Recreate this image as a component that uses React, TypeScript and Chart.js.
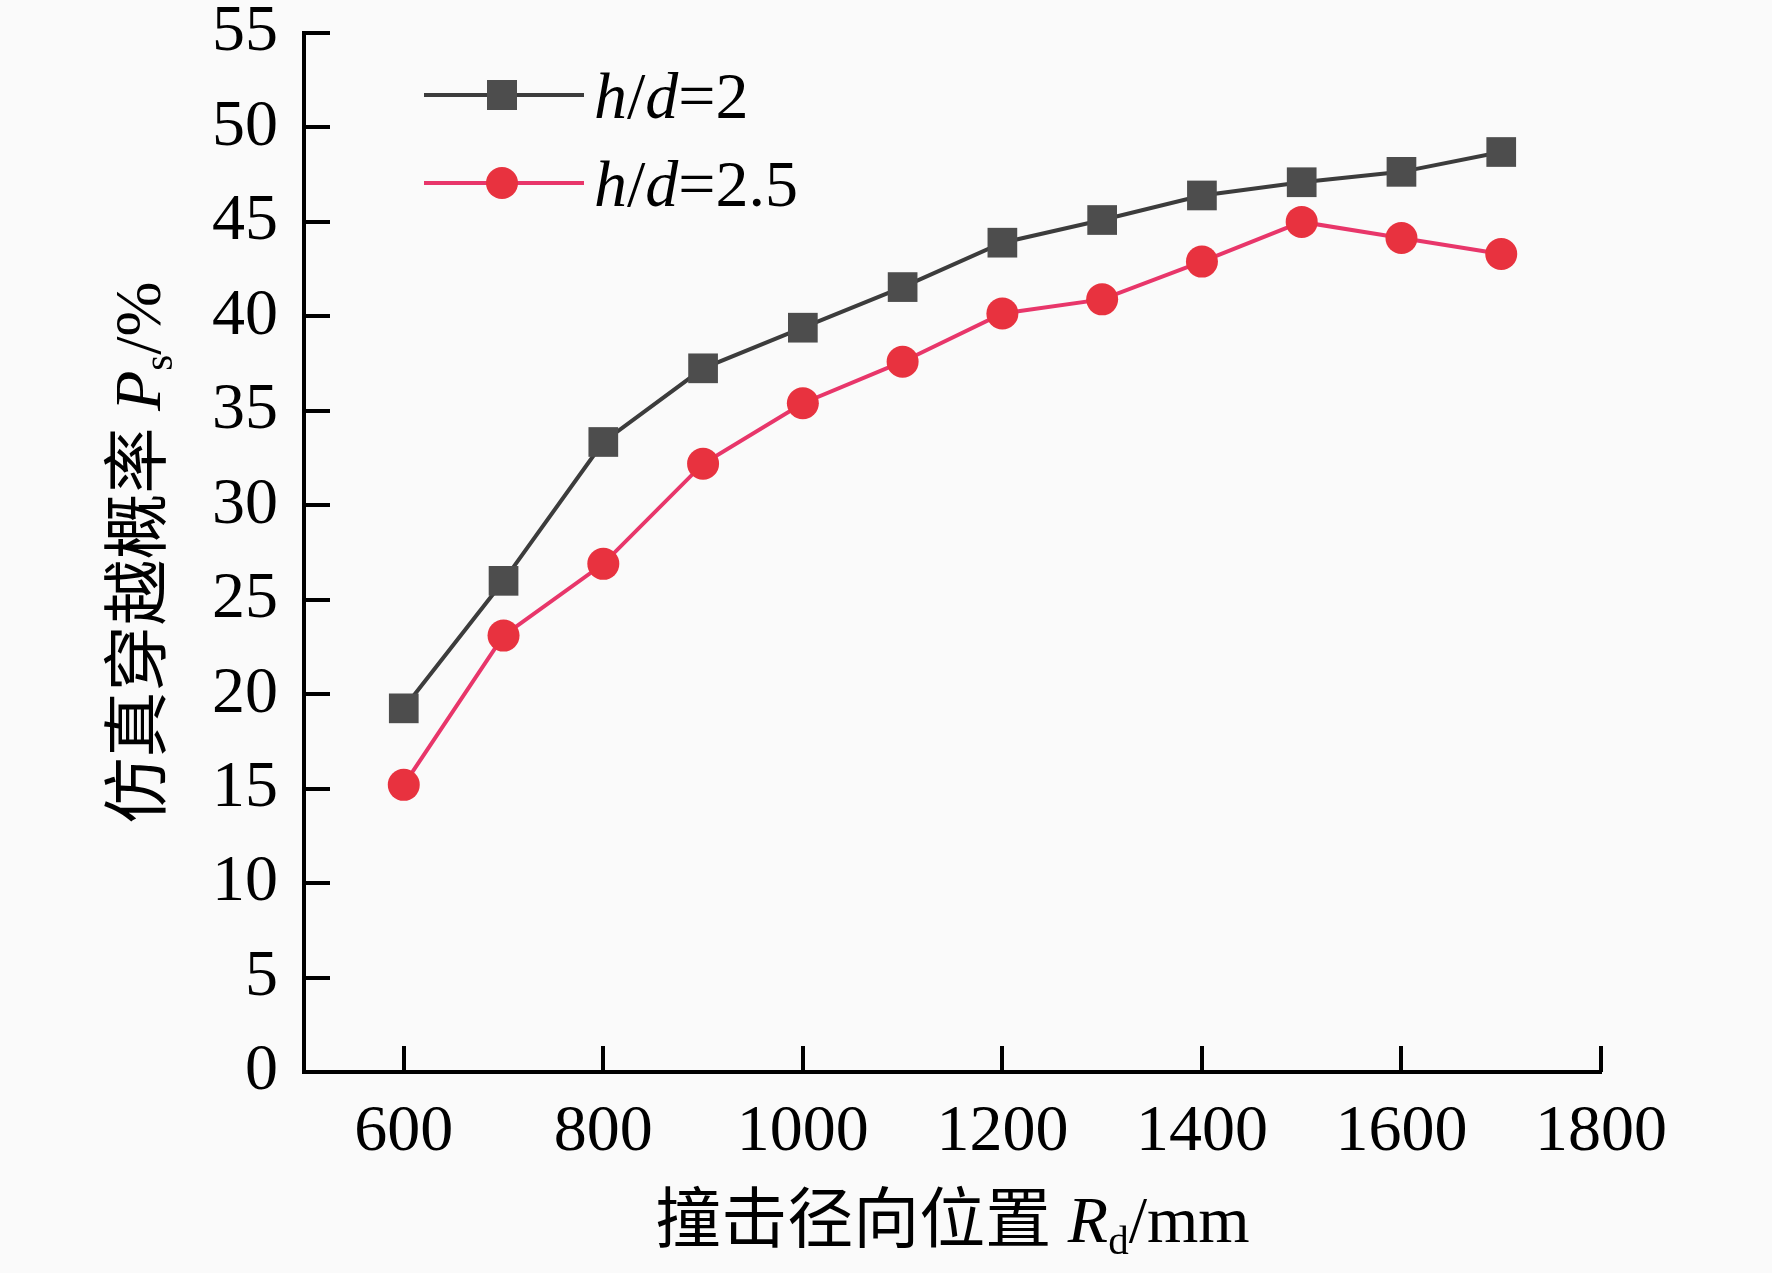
import React, { useEffect, useRef } from "react";
import { Chart, registerables } from "chart.js";

Chart.register(...registerables);

const positions = [600, 700, 800, 900, 1000, 1100, 1200, 1300, 1400, 1500, 1600, 1700];
const seriesHd2 = [19.25, 26.0, 33.35, 37.25, 39.4, 41.55, 43.9, 45.1, 46.4, 47.1, 47.65, 48.7];
const seriesHd25 = [15.2, 23.1, 26.9, 32.2, 35.4, 37.6, 40.15, 40.9, 42.9, 45.0, 44.15, 43.3];
const xTickValues = [600, 800, 1000, 1200, 1400, 1600, 1800];
const yTickValues = [0, 5, 10, 15, 20, 25, 30, 35, 40, 45, 50, 55];

const LATIN = "'Liberation Serif', 'Times New Roman', serif";
const CJK = "'Noto Sans CJK SC', sans-serif";
const FS = 66;

type Seg = { t: string; italic?: boolean; sub?: boolean; cjk?: boolean };

function segFont(s: Seg) {
  const size = s.sub ? Math.round(FS * 0.62) : FS;
  const fam = s.cjk ? CJK : LATIN;
  return `${s.italic ? "italic " : ""}${size}px ${fam}`;
}

function drawRich(ctx: CanvasRenderingContext2D, segs: Seg[], x: number, y: number, align: "center" | "left") {
  let total = 0;
  const widths = segs.map((s) => {
    ctx.font = segFont(s);
    const w = ctx.measureText(s.t).width;
    total += w;
    return w;
  });
  let cx = align === "center" ? x - total / 2 : x;
  segs.forEach((s, i) => {
    ctx.font = segFont(s);
    ctx.fillText(s.t, cx, s.sub ? y + FS * 0.18 : y);
    cx += widths[i];
  });
}

const xTitle: Seg[] = [
  { t: "撞击径向位置", cjk: true },
  { t: " " },
  { t: "R", italic: true },
  { t: "d", sub: true },
  { t: "/mm" },
];
const yTitle: Seg[] = [
  { t: "仿真穿越概率", cjk: true },
  { t: " " },
  { t: "P", italic: true },
  { t: "s", sub: true },
  { t: "/%" },
];

const COLORS = {
  blackLine: "#3c3c3c",
  blackMarker: "#4d4d4d",
  redLine: "#e8366a",
  redMarker: "#e8323f",
};

const decorPlugin = {
  id: "decor",
  afterDraw(chart: any) {
    const ctx: CanvasRenderingContext2D = chart.ctx;
    const area = chart.chartArea;
    const xs = chart.scales.x;
    const ys = chart.scales.y;
    ctx.save();
    ctx.strokeStyle = "#000";
    ctx.lineWidth = 4;
    // inward ticks
    xs.ticks.forEach((t: any) => {
      const px = Math.round(xs.getPixelForValue(t.value));
      ctx.beginPath();
      ctx.moveTo(px, area.bottom);
      ctx.lineTo(px, area.bottom - 26);
      ctx.stroke();
    });
    ys.ticks.forEach((t: any) => {
      const py = Math.round(ys.getPixelForValue(t.value));
      ctx.beginPath();
      ctx.moveTo(area.left, py);
      ctx.lineTo(area.left + 26, py);
      ctx.stroke();
    });
    // axis titles
    ctx.fillStyle = "#000";
    ctx.textBaseline = "alphabetic";
    ctx.textAlign = "left";
    drawRich(ctx, xTitle, (area.left + area.right) / 2, area.bottom + 170, "center");
    ctx.save();
    ctx.translate(160, (area.top + area.bottom) / 2);
    ctx.rotate(-Math.PI / 2);
    drawRich(ctx, yTitle, 0, 0, "center");
    ctx.restore();

    // legend
    const items = [
      { ds: chart.data.datasets[0], label: [{ t: "h", italic: true }, { t: "/" }, { t: "d", italic: true }, { t: "=2" }] as Seg[], y: area.top + 62 },
      { ds: chart.data.datasets[1], label: [{ t: "h", italic: true }, { t: "/" }, { t: "d", italic: true }, { t: "=2.5" }] as Seg[], y: area.top + 150 },
    ];
    const lx0 = area.left + 120;
    const lx1 = area.left + 280;
    items.forEach((it) => {
      ctx.strokeStyle = it.ds.borderColor;
      ctx.lineWidth = 4;
      ctx.beginPath();
      ctx.moveTo(lx0, it.y);
      ctx.lineTo(lx1, it.y);
      ctx.stroke();
      const mx = (lx0 + lx1) / 2 - 2;
      ctx.fillStyle = it.ds.pointBackgroundColor;
      if (it.ds.pointStyle === "rect") {
        ctx.fillRect(mx - 15, it.y - 15, 30, 30);
      } else {
        ctx.beginPath();
        ctx.arc(mx, it.y, 16, 0, Math.PI * 2);
        ctx.fill();
      }
      ctx.fillStyle = "#000";
      drawRich(ctx, it.label, lx1 + 10, it.y + 23, "left");
    });
    ctx.restore();
  },
};

export default function App() {
  const ref = useRef<HTMLCanvasElement | null>(null);
  useEffect(() => {
    if (!ref.current) return;
    const chart = new Chart(ref.current, {
      type: "line",
      data: {
        datasets: [
          {
            label: "h/d=2",
            data: positions.map((x, i) => ({ x, y: seriesHd2[i] })),
            borderColor: COLORS.blackLine,
            backgroundColor: COLORS.blackMarker,
            pointBackgroundColor: COLORS.blackMarker,
            pointBorderColor: COLORS.blackMarker,
            pointStyle: "rect",
            pointRadius: 21,
            pointBorderWidth: 0,
            borderWidth: 4,
            tension: 0,
          },
          {
            label: "h/d=2.5",
            data: positions.map((x, i) => ({ x, y: seriesHd25[i] })),
            borderColor: COLORS.redLine,
            backgroundColor: COLORS.redMarker,
            pointBackgroundColor: COLORS.redMarker,
            pointBorderColor: COLORS.redMarker,
            pointStyle: "circle",
            pointRadius: 16,
            pointBorderWidth: 0,
            borderWidth: 4,
            tension: 0,
          },
        ],
      },
      options: {
        animation: false,
        responsive: false,
        devicePixelRatio: 1,
        layout: { padding: { top: 33, right: 171, left: 0, bottom: 0 } },
        plugins: { legend: { display: false }, tooltip: { enabled: false } },
        scales: {
          x: {
            type: "linear",
            min: 500,
            max: 1800,
            afterBuildTicks: (s: any) => {
              s.ticks = xTickValues.map((v) => ({ value: v }));
            },
            afterFit: (s: any) => {
              s.height = 201;
              s.paddingLeft = 0;
              s.paddingRight = 0;
            },
            grid: { display: false, drawTicks: false },
            border: { display: true, color: "#000", width: 4 },
            ticks: {
              color: "#000",
              padding: 28,
              maxRotation: 0,
              autoSkip: false,
              callback: (v: any) => String(v),
              font: { family: LATIN, size: FS, lineHeight: 1 },
            },
          },
          y: {
            type: "linear",
            min: 0,
            max: 55,
            afterBuildTicks: (s: any) => {
              s.ticks = yTickValues.map((v) => ({ value: v }));
            },
            afterFit: (s: any) => {
              s.width = 304;
              s.paddingTop = 0;
              s.paddingBottom = 0;
            },
            grid: { display: false, drawTicks: false },
            border: { display: true, color: "#000", width: 4 },
            ticks: {
              color: "#000",
              padding: 26,
              autoSkip: false,
              callback: (v: any) => String(v),
              font: { family: LATIN, size: FS, lineHeight: 1 },
            },
          },
        },
      },
      plugins: [decorPlugin],
    } as any);
    return () => chart.destroy();
  }, []);
  return (
    <div style={{ position: "absolute", left: 0, top: 0, width: 1772, height: 1273, background: "#fafafa" }}>
      <canvas ref={ref} width={1772} height={1273} style={{ width: 1772, height: 1273, display: "block" }} />
    </div>
  );
}
